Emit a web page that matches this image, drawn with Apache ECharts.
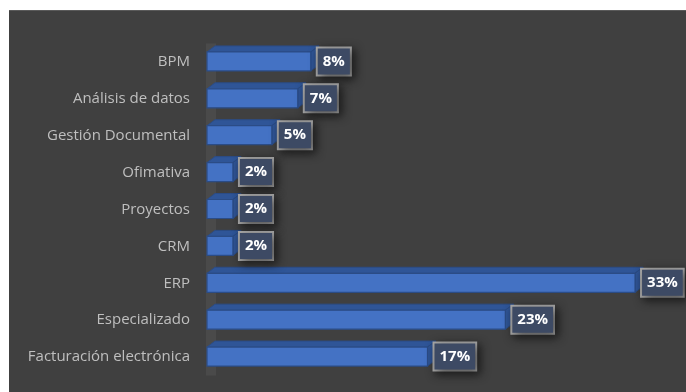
<!DOCTYPE html>
<html>
<head>
<meta charset="utf-8">
<script src="https://cdn.jsdelivr.net/npm/echarts@6/dist/echarts.min.js"></script>
<style>
html,body{margin:0;padding:0;background:#ffffff;}
#chart{position:absolute;left:9px;top:10px;width:677px;height:382px;border-top:1px solid #5a5a5a;box-sizing:border-box;}
</style>
</head>
<body>
<div id="chart"></div>
<script>
const categories = ['BPM','Análisis de datos','Gestión Documental','Ofimativa','Proyectos','CRM','ERP','Especializado','Facturación electrónica'];
const values = [8,7,5,2,2,2,33,23,17];

const chart = echarts.init(document.getElementById('chart'));
const data = values.map((v,i)=>[v,i]);

function renderItem(params, api){
  const v = api.value(0);
  const idx = api.value(1);
  const p0 = api.coord([0, idx]);
  const p1 = api.coord([v, idx]);
  const c = p0[1];
  const x0 = p0[0], x1 = p1[0];
  const yt = c - 10, yb = c + 9;
  const dx = 8, dy = -6;
  const edge = '#2B4C86';
  return {
    type:'group',
    children:[
      {type:'polygon', shape:{points:[[x0,yt],[x1,yt],[x1+dx,yt+dy],[x0+dx,yt+dy]]},
       style:{fill:'#2F5597', stroke:edge, lineWidth:1}},
      {type:'polygon', shape:{points:[[x1,yt],[x1+dx,yt+dy],[x1+dx,yb+dy],[x1,yb]]},
       style:{fill:'#305596', stroke:edge, lineWidth:1}},
      {type:'rect', shape:{x:x0, y:yt, width:x1-x0, height:yb-yt},
       style:{fill:'#4472C4', stroke:edge, lineWidth:1.2}},
      {type:'text', x:x1+7, y:c-0.5, z2:10,
       style:{text: v+'%', fill:'#ffffff', font:'bold 15px "Open Sans"',
              align:'left', verticalAlign:'middle',
              backgroundColor:'#3D4A64', borderColor:'#A6A6A6', borderWidth:2,
              padding:[6,5,5,5],
              shadowColor:'rgba(0,0,0,0.55)', shadowBlur:10, shadowOffsetX:3, shadowOffsetY:3}}
    ]
  };
}

chart.setOption({
  backgroundColor:'#404040',
  animation:false,
  grid:{left:198, right:25, top:32.5, bottom:16.5},
  xAxis:{type:'value', min:0, max:35, show:false},
  yAxis:{type:'category', data:categories, inverse:true,
    offset:-4,
    axisLine:{show:true, lineStyle:{color:'#4a4a4a', width:10, cap:'butt'}},
    axisTick:{show:false},
    axisLabel:{color:'#BFBFBF', fontSize:15, fontFamily:'Open Sans', margin:21}
  },
  series:[{type:'custom', renderItem: renderItem, data: data, encode:{x:0, y:1}, clip:false}]
});
</script>
</body>
</html>
